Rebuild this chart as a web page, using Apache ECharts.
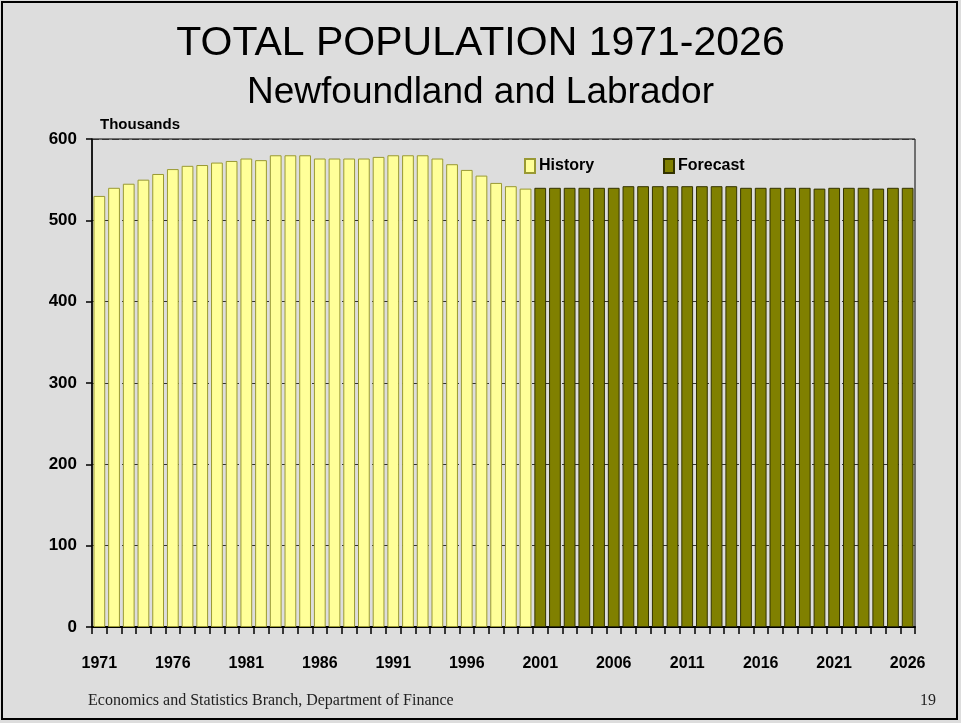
<!DOCTYPE html>
<html>
<head>
<meta charset="utf-8">
<script src="https://cdn.jsdelivr.net/npm/echarts@6/dist/echarts.min.js"></script>
<style>
  html, body { margin: 0; padding: 0; background: #dddddd; }
  #main { width: 961px; height: 723px; }
</style>
</head>
<body>
<div id="main"></div>
<script>
// years 1971-2026
const years = [];
for (let y = 1971; y <= 2026; y++) years.push(String(y));

// thousands
const history = [530, 540, 545, 550, 557, 563, 567, 568, 571, 573,
                 576, 574, 580, 580, 580, 576, 576, 576, 576, 578,
                 580, 580, 580, 576, 569, 562, 555, 546, 542, 539];
const forecast = [540, 540, 540, 540, 540, 540, 542, 542, 542, 542,
                  542, 542, 542, 542, 540, 540, 540, 540, 540, 539,
                  540, 540, 540, 539, 540, 540];

const yTicks = [0, 100, 200, 300, 400, 500, 600];

const histData = years.map((y, i) => i < history.length ? history[i] : null);
const foreData = years.map((y, i) => i >= history.length ? forecast[i - history.length] : null);

const sans = "'Liberation Sans', Arial, sans-serif";
const serif = "'Liberation Serif', 'Times New Roman', serif";

let myChart = echarts.init(document.getElementById('main'));
let option = {
  backgroundColor: '#dddddd',
  animation: false,
  title: [
    {
      text: 'TOTAL POPULATION 1971-2026',
      left: 'center', top: 23, padding: 0,
      textStyle: { fontFamily: sans, fontWeight: 'normal', fontSize: 41, color: '#000',
        textShadowColor: '#fff', textShadowOffsetX: 1, textShadowOffsetY: 1, textShadowBlur: 0 }
    },
    {
      text: 'Newfoundland and Labrador',
      left: 'center', top: 74, padding: 0,
      textStyle: { fontFamily: sans, fontWeight: 'normal', fontSize: 37, color: '#000',
        textShadowColor: '#fff', textShadowOffsetX: 1, textShadowOffsetY: 1, textShadowBlur: 0 }
    },
    {
      text: 'Thousands',
      left: 100, top: 117, padding: 0,
      textStyle: { fontFamily: sans, fontWeight: 'bold', fontSize: 15, color: '#000' }
    },
    {
      text: 'Economics and Statistics Branch, Department of Finance',
      left: 88, top: 693, padding: 0,
      textStyle: { fontFamily: serif, fontWeight: 'normal', fontSize: 16, color: '#222' }
    },
    {
      text: '19',
      left: 920, top: 693, padding: 0,
      textStyle: { fontFamily: serif, fontWeight: 'normal', fontSize: 16, color: '#222' }
    }
  ],
  legend: [
    {
      data: ['History'], left: 524, top: 158, padding: 0,
      icon: 'rect', itemWidth: 10, itemHeight: 14, itemGap: 4,
      textStyle: { fontFamily: sans, fontWeight: 'bold', fontSize: 16, color: '#000', padding: [2, 0, 0, -1] }
    },
    {
      data: ['Forecast'], left: 663, top: 158, padding: 0,
      icon: 'rect', itemWidth: 10, itemHeight: 14, itemGap: 4,
      textStyle: { fontFamily: sans, fontWeight: 'bold', fontSize: 16, color: '#000', padding: [2, 0, 0, -1] }
    }
  ],
  grid: {
    left: 92, right: 46, top: 139, bottom: 96,
    show: true, borderColor: '#000', borderWidth: 1, backgroundColor: 'transparent'
  },
  xAxis: {
    type: 'category',
    data: years,
    axisLine: { lineStyle: { color: '#000', width: 2 } },
    axisTick: { show: true, length: 7, interval: 0, lineStyle: { color: '#000', width: 1.5 } },
    axisLabel: {
      interval: 4, margin: 29,
      fontFamily: sans, fontWeight: 'bold', fontSize: 16, color: '#000'
    }
  },
  yAxis: {
    type: 'value',
    min: yTicks[0], max: yTicks[yTicks.length - 1], interval: 100,
    axisLine: { show: true, lineStyle: { color: '#000', width: 1.5 } },
    axisTick: { show: true, length: 6, lineStyle: { color: '#000', width: 1.5 } },
    axisLabel: {
      margin: 15,
      fontFamily: sans, fontWeight: 'bold', fontSize: 17, color: '#000'
    },
    splitLine: { show: true, lineStyle: { color: '#333', type: [7, 3], width: 1 } }
  },
  series: [
    {
      name: 'History',
      type: 'bar',
      data: histData,
      barWidth: '80%',
      barGap: '-100%',
      itemStyle: { color: '#ffff99', borderColor: '#999933', borderWidth: 1 }
    },
    {
      name: 'Forecast',
      type: 'bar',
      data: foreData,
      barWidth: '80%',
      barGap: '-100%',
      itemStyle: { color: '#808000', borderColor: '#333300', borderWidth: 1 }
    }
  ],
  graphic: [
    {
      type: 'rect', silent: true, z: 100,
      shape: { x: 2, y: 2, width: 955, height: 717 },
      style: { fill: 'none', stroke: '#000', lineWidth: 2 }
    }
  ]
};
myChart.setOption(option);
</script>
</body>
</html>
